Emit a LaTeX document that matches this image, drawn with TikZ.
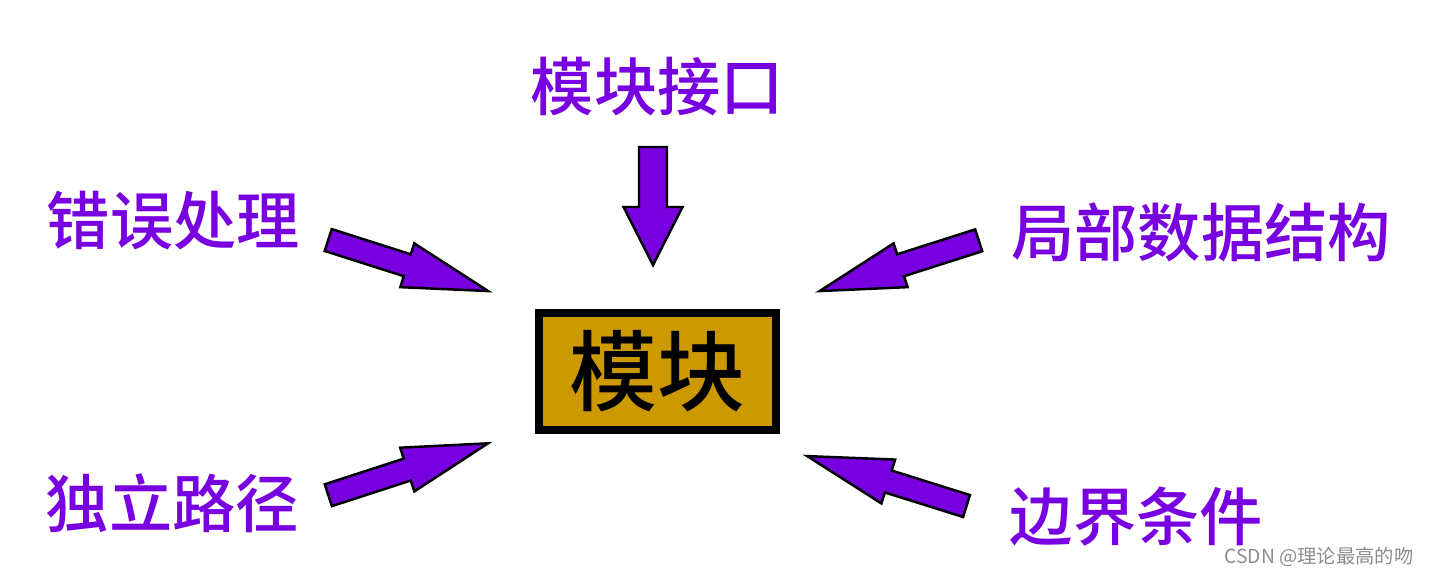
\documentclass[tikz,border=0pt]{standalone}
\usepackage{fontspec}
\usepackage{tikz}
\usepackage{xcolor}
\newfontfamily\cjk{Noto Sans CJK SC}
\newfontfamily\cjkbold{Noto Sans CJK SC Medium}
\definecolor{arrowpurple}{RGB}{120,0,224}
\definecolor{boxgold}{RGB}{204,153,0}

\begin{document}
\begin{tikzpicture}[
    label/.style={text=arrowpurple, font=\cjkbold\fontsize{18}{18}\selectfont, inner sep=0pt},
    modbox/.style={draw=black, fill=boxgold, line width=0.08cm, minimum width=2.37cm, minimum height=1.17cm, inner sep=0pt, font=\cjkbold\fontsize{25}{25}\selectfont},
    arrowbody/.style={draw=black, fill=arrowpurple, line width=0.7pt, line join=miter},
    pics/blockarrow/.style n args={4}{code={
        \draw[arrowbody] (0,-#2/2) -- (#1-#4,-#2/2) -- (#1-#4,-#3/2) -- (#1,0)
            -- (#1-#4,#3/2) -- (#1-#4,#2/2) -- (0,#2/2) -- cycle;
    }}
]
    \useasboundingbox (0,0) rectangle (14.30,5.76);

    % Centre box
    \node[modbox] (mod) at (6.575,2.045) {模块};

    % Labels round the box
    \node[label] (iface) at (6.575,4.89) {模块接口};
    \node[label] (err) at (1.735,3.55) {错误处理};
    \node[label] (local) at (12.01,3.44) {局部数据结构};
    \node[label] (path) at (1.725,0.73) {独立路径};
    \node[label] (bound) at (11.365,0.59) {边界条件};

    % Arrow tails
    \coordinate (tiface) at (6.53,4.29);
    \coordinate (terr) at (3.282,3.36);
    \coordinate (tlocal) at (9.787,3.357);
    \coordinate (tpath) at (3.283,0.808);
    \coordinate (tbound) at (9.665,0.70);

    % Block arrows pointing at the box
    \pic[rotate=-90] at (tiface) {blockarrow={1.18}{0.28}{0.59}{0.58}};
    \pic[rotate=-17.7] at (terr) {blockarrow={1.68}{0.23}{0.46}{0.85}};
    \pic[rotate=197.7] at (tlocal) {blockarrow={1.67}{0.23}{0.46}{0.85}};
    \pic[rotate=18] at (tpath) {blockarrow={1.68}{0.23}{0.46}{0.85}};
    \pic[rotate=162.6] at (tbound) {blockarrow={1.67}{0.23}{0.46}{0.85}};

    % Watermark
    \node[text=black!45, font=\cjk\fontsize{5.5}{5.5}\selectfont, inner sep=0pt] (mark) at (13.19,0.19) {CSDN @理论最高的吻};
\end{tikzpicture}
\end{document}
